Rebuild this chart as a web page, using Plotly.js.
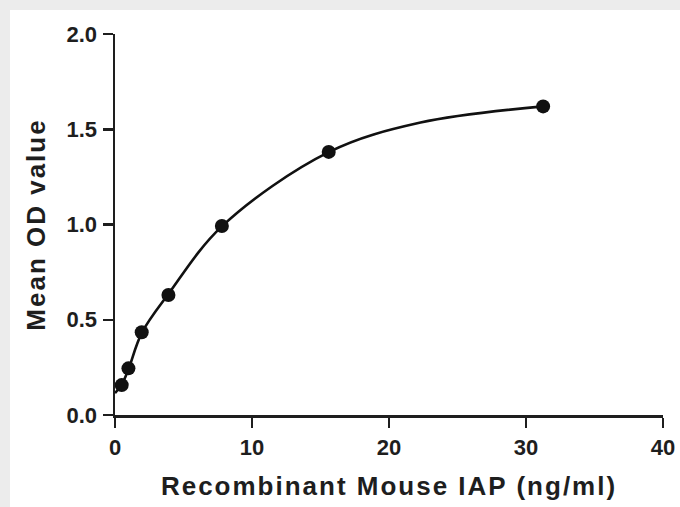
<!DOCTYPE html>
<html>
<head>
<meta charset="utf-8">
<script src="https://cdn.plot.ly/plotly-3.0.1.min.js"></script>
<style>
  html, body { margin: 0; padding: 0; background: #ececec; width: 680px; height: 507px; overflow: hidden; }
  #plot { position: absolute; left: 10px; top: 10px; width: 670px; height: 497px; background: #ffffff; }
  .xtitle, .ytitle { letter-spacing: 2px; }
</style>
</head>
<body>
<div id="plot"></div>
<script>
// Measured standards (concentration, ng/ml) and mean OD values
const concentration = [0.49, 0.98, 1.95, 3.9, 7.8, 15.6, 31.25];
const meanOD = [0.157, 0.245, 0.434, 0.630, 0.992, 1.381, 1.620];

// Fitted curve, points
const fitX = [0, 0.49, 0.98, 1.95, 3.9, 7.8, 15.6, 22.3, 31.25];
const fitY = [0.115, 0.16, 0.24, 0.43, 0.635, 0.99, 1.38, 1.535, 1.620];

// Tick labels
const xTickVals = [0, 10, 20, 30, 40];
const xTickText = ['0', '10', '20', '30', '40'];
const yTickVals = [0, 0.5, 1.0, 1.5, 2.0];
const yTickText = ['0.0', '0.5', '1.0', '1.5', '2.0'];

const xTitle = 'Recombinant Mouse IAP (ng/ml)';
const yTitle = 'Mean OD value';

const FONT = 'Liberation Sans, Arial, Helvetica, sans-serif';
const INK = '#1e1e1e';

const traces = [
  {
    x: fitX, y: fitY, type: 'scatter', mode: 'lines',
    line: { color: '#111111', width: 2.6, shape: 'spline', smoothing: 1 },
    hoverinfo: 'skip', showlegend: false
  },
  {
    x: concentration, y: meanOD, type: 'scatter', mode: 'markers',
    marker: { color: '#111111', size: 14, symbol: 'circle' },
    showlegend: false, cliponaxis: false
  }
];

const axisCommon = {
  showline: true, linecolor: INK, linewidth: 2.5,
  ticks: 'outside', ticklen: 10, tickwidth: 2.5, tickcolor: INK,
  showgrid: false, zeroline: false,
  tickfont: { family: FONT, size: 22, color: INK, weight: 'bold' },
  fixedrange: true
};

const layout = {
  width: 670, height: 497,
  margin: { l: 105, r: 17, t: 24, b: 92 },
  paper_bgcolor: '#ffffff', plot_bgcolor: '#ffffff',
  showlegend: false,
  xaxis: Object.assign({}, axisCommon, {
    range: [0, 40], tickmode: 'array', tickvals: xTickVals, ticktext: xTickText,
    ticklabelstandoff: 1,
    title: { text: xTitle, font: { family: FONT, size: 26, color: INK, weight: 'bold' }, standoff: 18 }
  }),
  yaxis: Object.assign({}, axisCommon, {
    range: [0, 2], tickmode: 'array', tickvals: yTickVals, ticktext: yTickText,
    ticklabelstandoff: 1,
    title: { text: yTitle, font: { family: FONT, size: 26, color: INK, weight: 'bold' }, standoff: 14 }
  })
};

Plotly.newPlot('plot', traces, layout, { displayModeBar: false, staticPlot: true });
</script>
</body>
</html>
